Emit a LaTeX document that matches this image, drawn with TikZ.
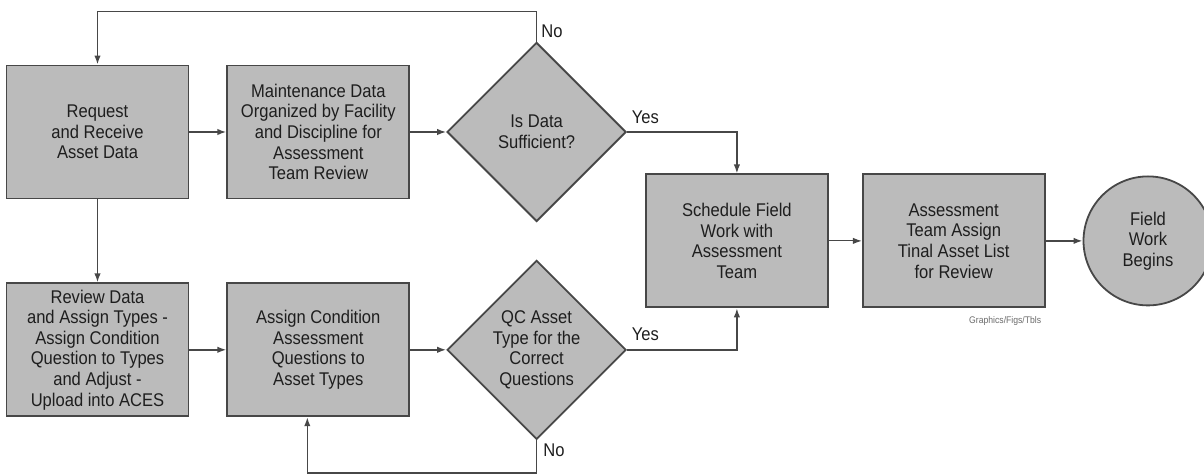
\documentclass[tikz,border=0pt]{standalone}
\usepackage{fontspec}
\setmainfont{Liberation Sans}[FakeStretch=0.9]
\usepackage{tikz}
\usetikzlibrary{arrows.meta, calc, positioning, shapes.geometric}
\definecolor{boxgray}{HTML}{BBBBBB}
\definecolor{edgegray}{HTML}{474747}
\definecolor{inkgray}{HTML}{1E1E1E}
\definecolor{creditgray}{HTML}{6A6A6A}

\begin{document}
\begin{tikzpicture}[>={Latex[length=4.5pt,width=3.2pt]}, node distance=18.5pt,
  etape/.style={rectangle, draw=edgegray, fill=boxgray, line width=0.9pt, minimum width=91pt, minimum height=66.5pt,
    inner sep=1pt, align=center, text=inkgray, font=\fontsize{9.2}{10.3}\selectfont},
  choix/.style={diamond, aspect=1, draw=edgegray, fill=boxgray, line width=0.9pt, minimum size=89.5pt,
    inner sep=0pt, align=center, text=inkgray, font=\fontsize{9.2}{10.3}\selectfont},
  fin/.style={circle, draw=edgegray, fill=boxgray, line width=0.9pt, minimum size=64.5pt,
    inner sep=0pt, align=center, text=inkgray, font=\fontsize{9.2}{10.3}\selectfont},
  lien/.style={->, line width=0.8pt, edgegray},
  reponse/.style={inner sep=1pt, text=inkgray, font=\fontsize{9.2}{10.3}\selectfont}]
  \useasboundingbox (0,0) rectangle (602pt,-237.5pt);

  % upper row: data request and first check
  \node[etape] (demande) at (48.75pt,-66pt) {Request\\and Receive\\Asset Data};
  \node[etape, right=of demande] (tri) {Maintenance Data\\Organized by Facility\\and Discipline for\\Assessment\\Team Review};
  \node[choix, right=18pt of tri] (suffit) {Is Data\\Sufficient?};

  % lower row: asset types and questions
  \node[etape, below=41.5pt of demande] (types) {Review Data\\and Assign Types -\\Assign Condition\\Question to Types\\and Adjust -\\Upload into ACES};
  \node[etape, right=of types] (questions) {Assign Condition\\Assessment\\Questions to\\Asset Types};
  \node[choix, right=18pt of questions] (qc) {QC Asset\\Type for the\\Correct\\Questions};

  % right part
  \node[etape, right=9pt of $(suffit.east)!0.5!(qc.east)$] (planning) {Schedule Field\\Work with\\Assessment\\Team};
  \node[etape, right=16.5pt of planning] (liste) {Assessment\\Team Assign\\Tinal Asset List\\for Review};
  \node[fin, right=of liste] (terrain) {Field\\Work\\Begins};
  \node[below left=4pt and 2pt of liste.south east, inner sep=0pt, text=creditgray,
    font=\fontsize{4.8}{5}\selectfont] (credit) {Graphics/Figs/Tbls};

  \coordinate[above=15pt of suffit.north] (haut);
  \coordinate[below=16.5pt of qc.south] (bas);

  \draw[lien] (demande) -- (tri);
  \draw[lien] (tri) -- (suffit);
  \draw[lien] (suffit.north) -- node[reponse, pos=0.35, right=1pt] (non1) {No} (haut) -| (demande.north);
  \draw[lien] (suffit.east) -| node[reponse, pos=0, above right=3pt and 1pt] (oui1) {Yes} (planning.north);
  \draw[lien] (demande) -- (types);
  \draw[lien] (types) -- (questions);
  \draw[lien] (questions) -- (qc);
  \draw[lien] (qc.east) -| node[reponse, pos=0, above right=3pt and 1pt] (oui2) {Yes} (planning.south);
  \draw[lien] (qc.south) -- node[reponse, pos=0.3, right=2pt] (non2) {No} (bas) -| ([xshift=-5.5pt]questions.south);
  \draw[->, line width=0.5pt, edgegray] (planning) -- (liste);
  \draw[lien] (liste) -- (terrain);
\end{tikzpicture}
\end{document}
